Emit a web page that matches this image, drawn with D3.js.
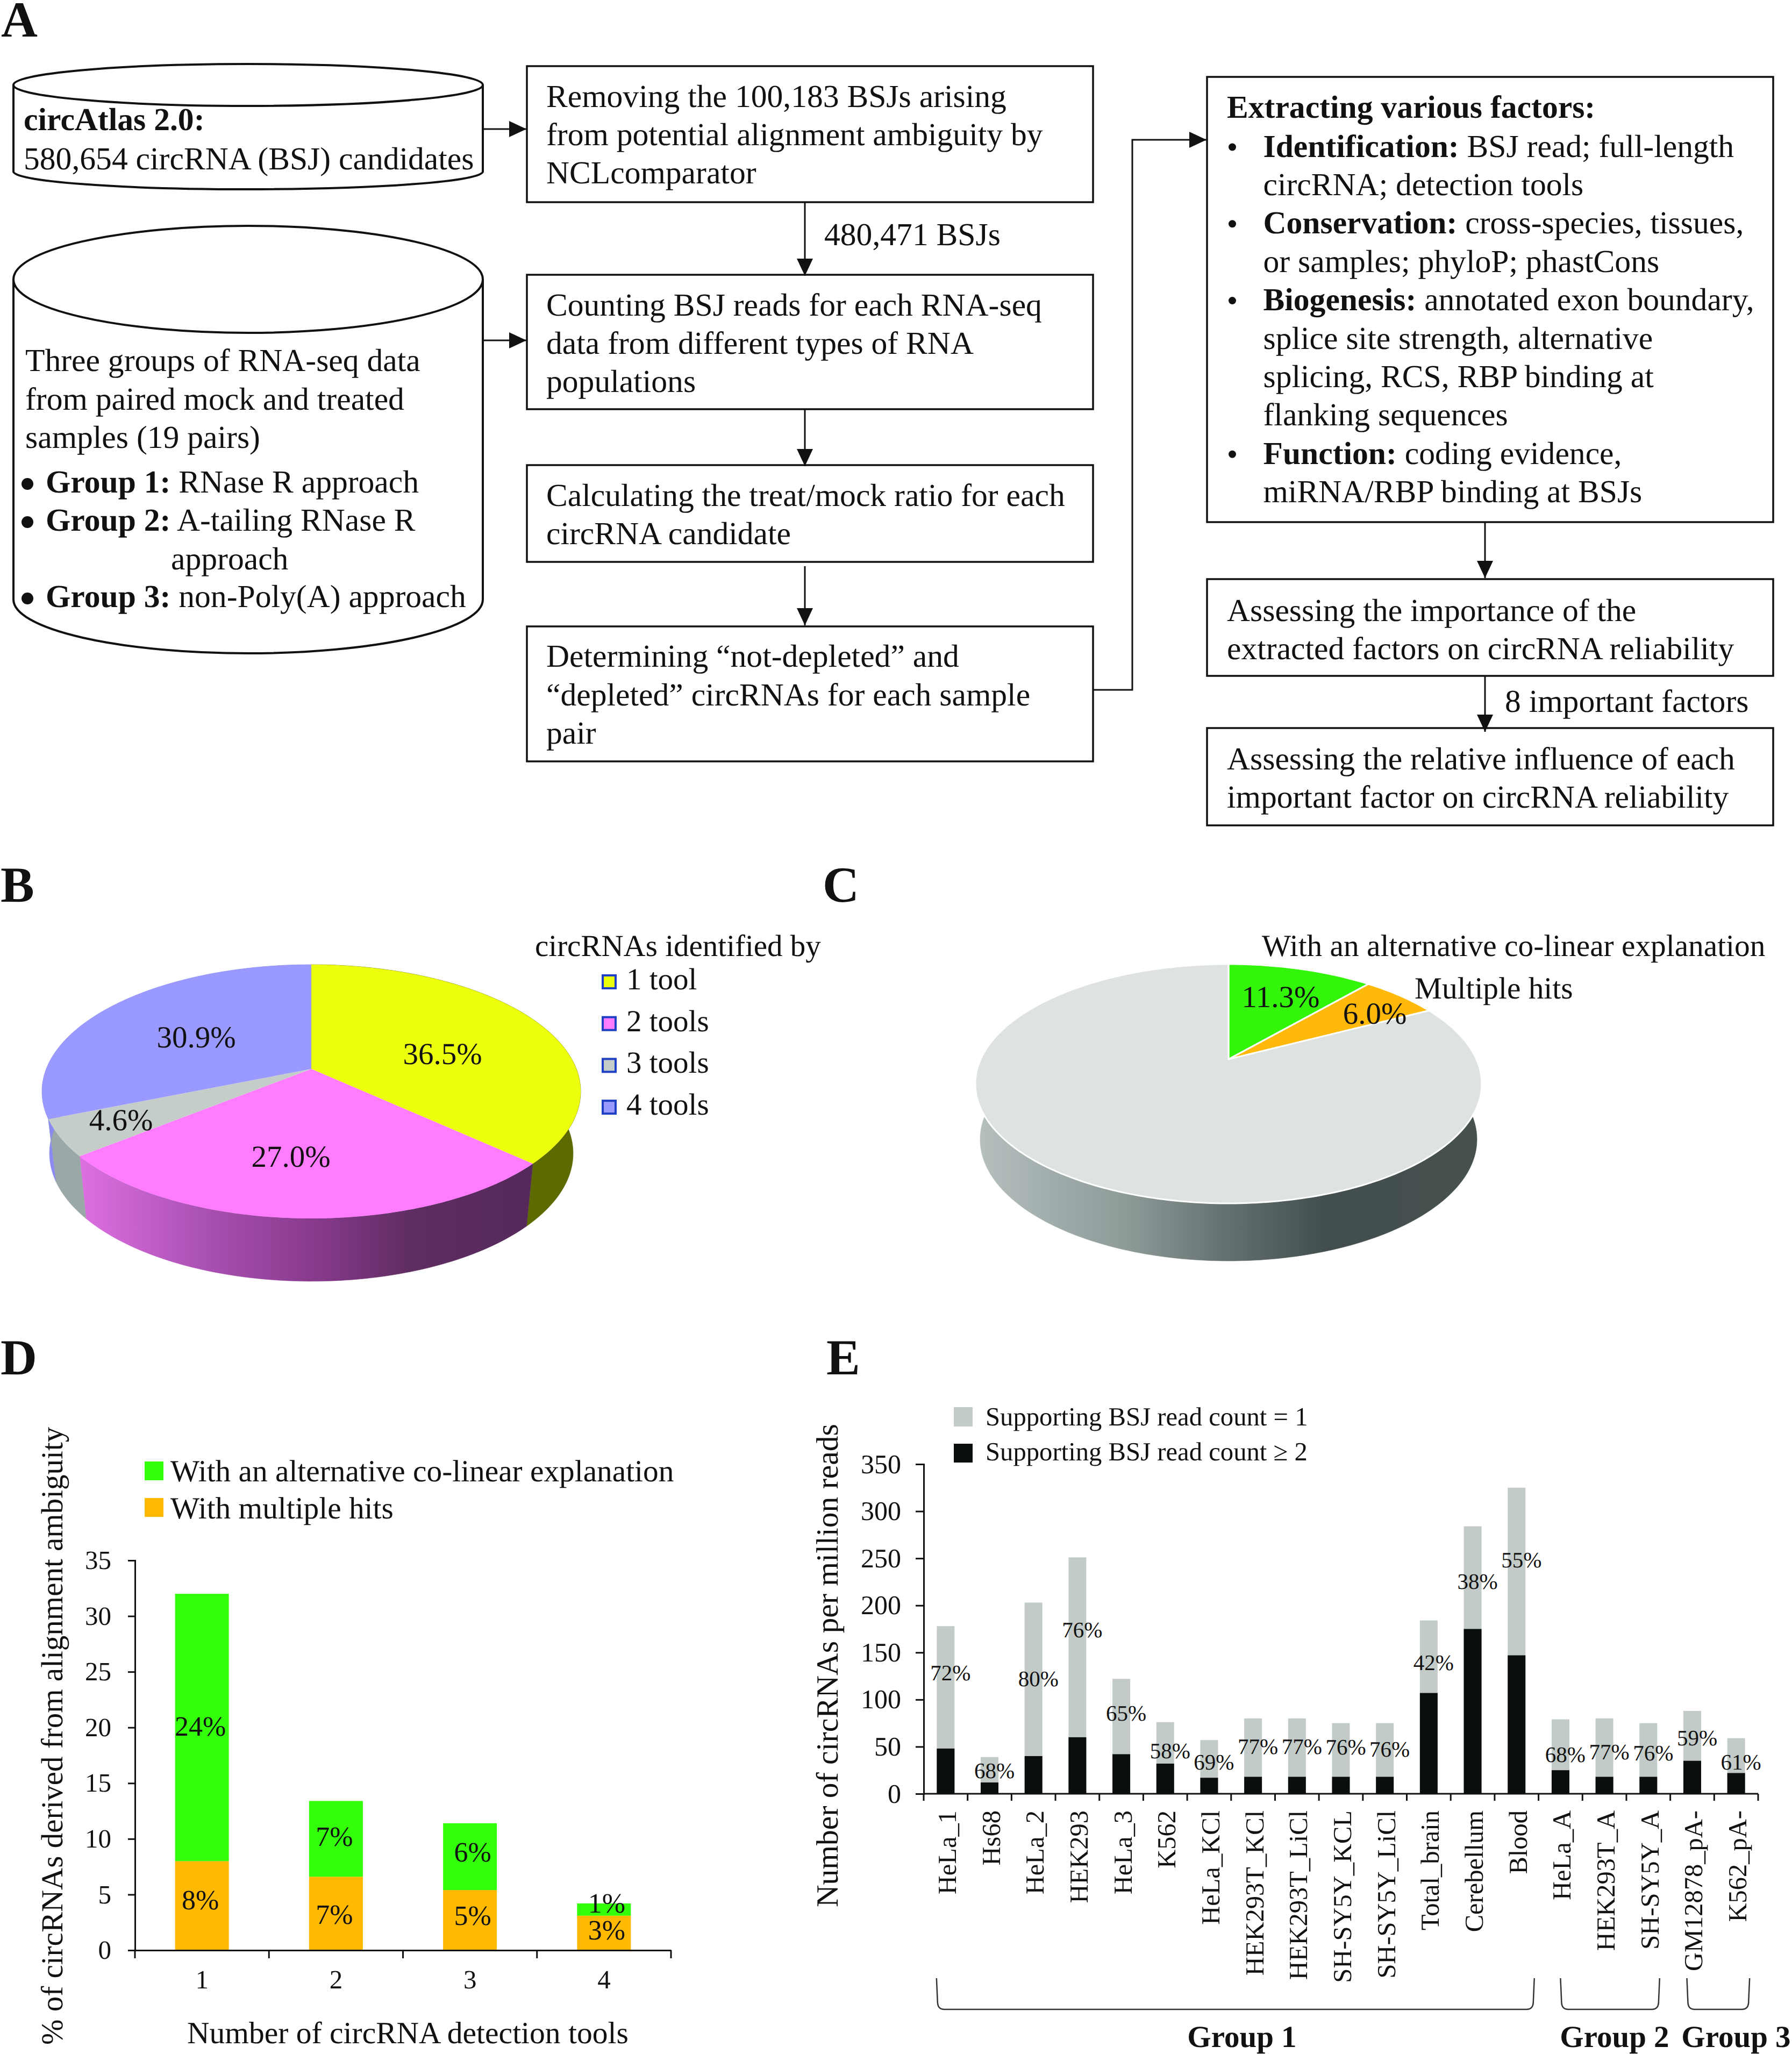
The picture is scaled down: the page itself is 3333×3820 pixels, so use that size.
<!DOCTYPE html>
<html>
<head>
<meta charset="utf-8">
<script src="https://cdn.jsdelivr.net/npm/d3@7"></script>
<style>
html,body{margin:0;padding:0;background:#fff}
svg{display:block}
text{font-family:"Liberation Serif","Times New Roman",serif;fill:#111;text-rendering:geometricPrecision}
</style>
</head>
<body>
<svg id="fig" width="3333" height="3820" viewBox="0 0 3333 3820"></svg>
<script>
// ---- panel A text ----
const boxLines1 = ["Removing the 100,183 BSJs arising","from potential alignment ambiguity by","NCLcomparator"];
const boxLines2 = ["Counting BSJ reads for each RNA-seq","data from different types of RNA","populations"];
const boxLines3 = ["Calculating the treat/mock ratio for each","circRNA candidate"];
const boxLines4 = ["Determining \u201cnot-depleted\u201d and","\u201cdepleted\u201d circRNAs for each sample","pair"];
const boxLines5 = ["Assessing the importance of the","extracted factors on circRNA reliability"];
const boxLines6 = ["Assessing the relative influence of each","important factor on circRNA reliability"];
const factorLines = [
  ["Identification:"," BSJ read; full-length"],["","circRNA; detection tools"],
  ["Conservation:"," cross-species, tissues,"],["","or samples; phyloP; phastCons"],
  ["Biogenesis:"," annotated exon boundary,"],["","splice site strength, alternative"],
  ["","splicing, RCS, RBP binding at"],["","flanking sequences"],
  ["Function:"," coding evidence,"],["","miRNA/RBP binding at BSJs"]
];
const groupLines = [["Group 1:"," RNase R approach"],["Group 2:"," A-tailing RNase R"],["Group 3:"," non-Poly(A) approach"]];

// ---- panel B ----
const toolNames = ["1 tool","2 tools","3 tools","4 tools"];
const toolShares = [36.5,27.0,4.6,30.9];
const toolColors = ["#ecff0c","#ff7cff","#c5cdc8","#9999ff"];
// ---- panel C ----
const hitShares = [11.3,6.0,82.7];
const hitColors = ["#33f50a","#ffb90a","#dee2e2"];
// ---- panel D ----
const detectCats = ["1","2","3","4"];
const multipleHits = [8,6.6,5.4,3.1];
const coLinear = [24,6.8,6,1.1];
const multipleLabels = ["8%","7%","5%","3%"];
const coLinearLabels = ["24%","7%","6%","1%"];
const multipleLabelAt = [4.5,3.2,3.1,1.8];
const coLinearLabelAt = [20.1,10.2,8.8,4.2];
const dTicks = [0,5,10,15,20,25,30,35];
// ---- panel E ----
const samples = ["HeLa_1","Hs68","HeLa_2","HEK293","HeLa_3","K562","HeLa_KCl","HEK293T_KCl","HEK293T_LiCl","SH-SY5Y_KCL","SH-SY5Y_LiCl","Total_brain","Cerebellum","Blood","HeLa_A","HEK293T_A","SH-SY5Y_A","GM12878_pA-","K562_pA-"];
const totalPerM = [178,39,203,251,122,76,57,80,80,75,75,184,284,325,79,80,75,88,59];
const multiRead = [48,12,40,60,42,32,17,18,18,18,18,107,175,147,25,18,18,35,22];
const pctLabels = ["72%","68%","80%","76%","65%","58%","69%","77%","77%","76%","76%","42%","38%","55%","68%","77%","76%","59%","61%"];
const pctLabelAt = [129,25,123,175,86,46,34,51,51,50,48,140,226,249,42,45,44,60,34];
const eTicks = [0,50,100,150,200,250,300,350];
const groupNames = ["Group 1","Group 2","Group 3"];
const groupSpans = [[0,13],[14,16],[17,18]];

const INK="#111";
const svg=d3.select("#fig");
svg.append("rect").attr("width",3333).attr("height",3820).attr("fill","#fff");
const defs=svg.append("defs");

function txt(g,x,y,s,size,opt={}){
  const t=g.append("text").attr("x",x).attr("y",y).attr("font-size",size).text(s);
  if(opt.bold)t.attr("font-weight","bold");
  if(opt.anchor)t.attr("text-anchor",opt.anchor);
  return t;
}
function mixed(g,x,y,seg,size){
  const t=g.append("text").attr("x",x).attr("y",y).attr("font-size",size).attr("xml:space","preserve").style("white-space","pre");
  if(seg[0])t.append("tspan").attr("font-weight","bold").text(seg[0]);
  t.append("tspan").text(seg[1]);
  return t;
}
// panel letters
[["A",2,68],["B",1,1677],["C",1530,1677],["D",1,2556],["E",1537,2556]].forEach(d=>txt(svg,d[1],d[2],d[0],94,{bold:true}));

// ---------- Panel A ----------
const A=svg.append("g");
const FS=59.6;
function box(x0,y0,x1,y1){A.append("rect").attr("x",x0).attr("y",y0).attr("width",x1-x0).attr("height",y1-y0).attr("fill","#fff").attr("stroke",INK).attr("stroke-width",3.5);}
function lines(x,first,step,arr){arr.forEach((s,i)=>txt(A,x,first+i*step,s,FS));}
function arrowHead(x,y,dir){
  const L=32,W=15;
  const p=dir==="d"?[[x,y],[x-W,y-L],[x+W,y-L]]:[[x,y],[x-L,y-W],[x-L,y+W]];
  A.append("path").attr("d",d3.line()(p)+"Z").attr("fill",INK);
}
function link(pts,dir){
  A.append("path").attr("d",d3.line()(pts)).attr("fill","none").attr("stroke",INK).attr("stroke-width",3);
  const e=pts[pts.length-1];arrowHead(e[0],e[1],dir);
}
function cylinder(x0,x1,top,ry,sideEnd,bottom){
  const rx=(x1-x0)/2,cx=(x0+x1)/2,cy=top+ry;
  A.append("path").attr("d",`M${x0},${cy}L${x0},${sideEnd}A${rx},${bottom-sideEnd} 0 0 0 ${x1},${sideEnd}L${x1},${cy}`)
    .attr("fill","#fff").attr("stroke",INK).attr("stroke-width",4);
  A.append("ellipse").attr("cx",cx).attr("cy",cy).attr("rx",rx).attr("ry",ry).attr("fill","#fff").attr("stroke",INK).attr("stroke-width",4);
}
cylinder(25,898,119,39,319,352);
cylinder(25,898,420,99.5,1115,1215);
txt(A,44,242,"circAtlas 2.0:",FS,{bold:true});
txt(A,44,315,"580,654 circRNA (BSJ) candidates",FS);
["Three groups of RNA-seq data","from paired mock and treated","samples (19 pairs)"].forEach((s,i)=>txt(A,47,690+i*71.5,s,FS));
[916,987,1129].forEach((y,i)=>{
  A.append("circle").attr("cx",51).attr("cy",y-16).attr("r",11).attr("fill",INK);
  mixed(A,85,y,groupLines[i],FS);
});
txt(A,318,1059,"approach",FS);

box(980,123,2033,376);box(980,511,2033,761);box(980,865,2033,1045);box(980,1165,2033,1416);
box(2245,143,3298,971);box(2245,1077,3298,1257);box(2245,1354,3298,1535);
lines(1016,199,71,boxLines1);
lines(1016,587,71,boxLines2);
lines(1016,941,71,boxLines3);
lines(1016,1240,71.5,boxLines4);
txt(A,2282,219,"Extracting various factors:",FS,{bold:true});
factorLines.forEach((seg,i)=>{
  const y=291.5+i*71.4;
  if(seg[0])A.append("circle").attr("cx",2292).attr("cy",y-18).attr("r",7).attr("fill",INK);
  mixed(A,2349.5,y,seg,FS);
});
lines(2282,1155,70.5,boxLines5);
lines(2282,1431,71,boxLines6);
txt(A,1533,456,"480,471 BSJs",FS);
txt(A,2799,1324,"8 important factors",FS);
link([[898,240],[979,240]],"r");
link([[898,633],[979,633]],"r");
link([[1497,376],[1497,513]],"d");
link([[1497,761],[1497,867]],"d");
link([[1497,1053],[1497,1163]],"d");
link([[2033,1283],[2106,1283],[2106,260],[2244,260]],"r");
link([[2762,971],[2762,1075]],"d");
link([[2762,1257],[2762,1361]],"d");

// ---------- Perspective pies ----------
function perspectivePie(o){
  const g=svg.append("g");
  const A_=o.apex[1]-o.top, B_=o.faceBottom-o.apex[1];
  const faceMid=(o.top+o.faceBottom)/2;
  const p=(B_-A_)/(B_+A_), b=A_*(1+p), c=o.rx*Math.sqrt(1-p*p);
  const proj=a=>{
    const X=Math.sin(a),Y=-Math.cos(a),w=1-p*Y;
    return [c*X/w,b*Y/w];
  };
  const topPt=a=>{const q=proj(a);return [o.apex[0]+q[0],o.apex[1]+q[1]];};
  const botPt=a=>{
    const q=topPt(a);
    return [o.apex[0]+o.wallSX*(q[0]-o.apex[0]),faceMid+o.wallShift+o.wallSY*(q[1]-faceMid)];
  };
  const arcs=d3.pie().sort(null).value(d=>d)(o.values);
  const line=d3.line();
  const sampleAngles=(a0,a1)=>{const n=Math.max(2,Math.ceil((a1-a0)*60));return d3.range(n+1).map(i=>a0+(a1-a0)*i/n);};
  arcs.forEach((s,i)=>{
    const as=sampleAngles(s.startAngle,s.endAngle);
    const pts=as.map(topPt).concat(as.slice().reverse().map(botPt));
    g.append("path").attr("d",line(pts)+"Z").attr("fill",o.wallFills[i]).attr("stroke",o.wallFills[i]).attr("stroke-width",0.6);
  });
  arcs.forEach((s,i)=>{
    const as=sampleAngles(s.startAngle,s.endAngle);
    const pts=[o.apex].concat(as.map(topPt));
    g.append("path").attr("d",line(pts)+"Z").attr("fill",o.colors[i]).attr("stroke",o.stroke).attr("stroke-width",o.strokeW);
  });
  return g;
}
function grad(id,x1,x2,stops){
  const l=defs.append("linearGradient").attr("id",id).attr("gradientUnits","userSpaceOnUse").attr("x1",x1).attr("x2",x2).attr("y1",0).attr("y2",0);
  stops.forEach(s=>l.append("stop").attr("offset",s[0]).attr("stop-color",s[1]));
  return `url(#${id})`;
}
const pinkWall=grad("pinkW",145,1000,[[0,"#de70e2"],[.28,"#a950b2"],[.53,"#85398a"],[.72,"#5f2d62"],[1,"#55285a"]]);
const grayWall=grad("grayW",1822,2746,[[0,"#b4bfbe"],[.30,"#8d9a98"],[.50,"#64706f"],[.70,"#424e4e"],[1,"#46514f"]]);
const gB=perspectivePie({apex:[579,1988],rx:501,top:1794,faceBottom:2266,wallShift:115,wallSX:.972,wallSY:1.008,values:toolShares,colors:toolColors,
  wallFills:["#5c6a00",pinkWall,"#9aa8a8","#8a8af0"],stroke:"none",strokeW:0});
[[823,1960],[541,2151],[225,2083],[365,1929]].forEach((q,i)=>txt(gB,q[0],q[1]+19,toolShares[i].toFixed(1)+"%",57,{anchor:"middle"}));
txt(gB,995,1778,"circRNAs identified by",57);
toolNames.forEach((n,i)=>{
  const y=1840+i*77.7;
  gB.append("rect").attr("x",1121).attr("y",y-26).attr("width",24).attr("height",24).attr("fill",toolColors[i]).attr("stroke","#1f3fc4").attr("stroke-width",4);
  txt(gB,1165,y,n,57);
});
const gC=perspectivePie({apex:[2285,1970],rx:471,top:1793,faceBottom:2238,wallShift:103.5,wallSX:.981,wallSY:1.016,values:hitShares,colors:hitColors,
  wallFills:["#dee2e2","#dee2e2",grayWall],stroke:"#fff",strokeW:3});
txt(gC,2382,1873,hitShares[0].toFixed(1)+"%",57,{anchor:"middle"});
txt(gC,2557,1904,hitShares[1].toFixed(1)+"%",57,{anchor:"middle"});
txt(gC,2347,1778,"With an alternative co-linear explanation",57.3);
txt(gC,2631,1857,"Multiple hits",57.3);

// ---------- Panel D ----------
const D=svg.append("g");
const xD=d3.scaleBand().domain(detectCats).range([251,1248]);
const yD=d3.scaleLinear().domain([0,35]).range([3627,2902]);
const barD=100;
detectCats.forEach((c,i)=>{
  const x=xD(c)+xD.bandwidth()/2-barD/2;
  D.append("rect").attr("x",x).attr("width",barD).attr("y",yD(multipleHits[i])).attr("height",yD(0)-yD(multipleHits[i])).attr("fill","#ffb900");
  D.append("rect").attr("x",x).attr("width",barD).attr("y",yD(multipleHits[i]+coLinear[i])).attr("height",yD(0)-yD(coLinear[i])).attr("fill","#33ff0a");
  const cx=xD(c)+xD.bandwidth()/2;
  txt(D,cx-3+(i>1?8:0),yD(multipleLabelAt[i])+17,multipleLabels[i],52,{anchor:"middle"});
  txt(D,cx-3+(i>1?8:0),yD(coLinearLabelAt[i])+17,coLinearLabels[i],52,{anchor:"middle"});
});
const yAxD=D.append("g").attr("transform","translate(251,0)").call(d3.axisLeft(yD).tickValues(dTicks).tickSize(13).tickPadding(31));
const xAxD=D.append("g").attr("transform","translate(0,3627)").call(d3.axisBottom(xD).tickSize(0).tickPadding(36));
detectCats.concat(["end"]).forEach((c,i)=>{
  const x=251+i*xD.bandwidth();
  D.append("line").attr("x1",x).attr("x2",x).attr("y1",3627).attr("y2",3642).attr("stroke",INK).attr("stroke-width",3);
});
[yAxD,xAxD].forEach(a=>{
  a.selectAll("path,line").attr("stroke",INK).attr("stroke-width",3);
  a.selectAll("text").attr("font-size",49).attr("fill",INK).style("font-family",'"Liberation Serif"');
});
txt(D,348,3800,"Number of circRNA detection tools",57.5);
txt(D,0,0,"% of circRNAs derived from alignment ambiguity",57).attr("transform","translate(116,3803) rotate(-90)");
D.append("rect").attr("x",269).attr("y",2718).attr("width",35).attr("height",35).attr("fill","#33ff0a");
D.append("rect").attr("x",269).attr("y",2786).attr("width",35).attr("height",35).attr("fill","#ffb900");
txt(D,317,2755,"With an alternative co-linear explanation",57.3);
txt(D,317,2824,"With multiple hits",57.3);

// ---------- Panel E ----------
const E=svg.append("g");
const xE=d3.scaleBand().domain(samples).range([1718,3270]);
const yE=d3.scaleLinear().domain([0,350]).range([3336,2723]);
const barE=33;
samples.forEach((c,i)=>{
  const cx=xE(c)+xE.bandwidth()/2;
  E.append("rect").attr("x",cx-barE/2).attr("width",barE).attr("y",yE(totalPerM[i])).attr("height",yE(0)-yE(totalPerM[i])).attr("fill","#c3cbc8");
  E.append("rect").attr("x",cx-barE/2).attr("width",barE).attr("y",yE(multiRead[i])).attr("height",yE(0)-yE(multiRead[i])).attr("fill","#0a0e0c");
  txt(E,cx+9,yE(pctLabelAt[i])+15,pctLabels[i],41,{anchor:"middle"});
  E.append("text").attr("transform",`translate(${cx+19},3367) rotate(-90)`).attr("text-anchor","end").attr("font-size",48.5).text(c);
  const x=xE(c);
  E.append("line").attr("x1",x).attr("x2",x).attr("y1",3336).attr("y2",3349).attr("stroke",INK).attr("stroke-width",3);
});
E.append("line").attr("x1",3270).attr("x2",3270).attr("y1",3336).attr("y2",3349).attr("stroke",INK).attr("stroke-width",3);
const yAxE=E.append("g").attr("transform","translate(1718,0)").call(d3.axisLeft(yE).tickValues(eTicks).tickSize(15).tickPadding(27));
yAxE.selectAll("path,line").attr("stroke",INK).attr("stroke-width",3);
yAxE.selectAll("text").attr("font-size",50).attr("fill",INK).style("font-family",'"Liberation Serif"');
E.append("line").attr("x1",1718).attr("x2",3270).attr("y1",3336).attr("y2",3336).attr("stroke",INK).attr("stroke-width",3);
txt(E,0,0,"Number of circRNAs per million reads",57.5).attr("transform","translate(1558,3547) rotate(-90)");
E.append("rect").attr("x",1774).attr("y",2617).attr("width",35).attr("height",36).attr("fill","#c3cbc8");
E.append("rect").attr("x",1774).attr("y",2685).attr("width",35).attr("height",35).attr("fill","#0a0e0c");
txt(E,1833,2651,"Supporting BSJ read count = 1",48.7);
txt(E,1833,2716,"Supporting BSJ read count \u2265 2",48.7);
// group brackets
const bracketPad=[[-17,33],[0,21],[-10,25]];
const groupLabelX=[2310,3003,3229];
groupSpans.forEach((sp,i)=>{
  const x0=xE(samples[sp[0]])+xE.bandwidth()/2+bracketPad[i][0];
  const x1=xE(samples[sp[1]])+xE.bandwidth()/2+bracketPad[i][1];
  const yT=3679,yB=3737;
  E.append("path").attr("d",`M${x0},${yT}L${x0+2},${yB-12}Q${x0+3},${yB} ${x0+14},${yB}L${x1-14},${yB}Q${x1-3},${yB} ${x1-2},${yB-12}L${x1},${yT}`)
    .attr("fill","none").attr("stroke","#333").attr("stroke-width",2.5);
  txt(E,groupLabelX[i],3807,groupNames[i],57,{bold:true,anchor:"middle"});
});
</script>
</body>
</html>
